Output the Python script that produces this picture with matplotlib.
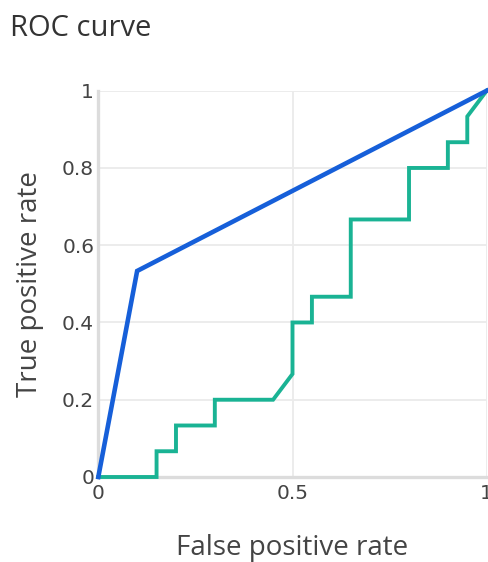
import numpy as np
import matplotlib
matplotlib.use("Agg")
import matplotlib.pyplot as plt

# ROC points for the two models
fpr_a = [0.0, 0.1, 1.0]
tpr_a = [0.0, 8 / 15, 1.0]

fpr_b = [0.0, 0.15, 0.15, 0.2, 0.2, 0.3, 0.3, 0.45, 0.5, 0.5, 0.55,
         0.55, 0.65, 0.65, 0.8, 0.8, 0.9, 0.9, 0.95, 0.95, 1.0]
tpr_b_counts = [0, 0, 1, 1, 2, 2, 3, 3, 4, 6, 6,
                7, 7, 10, 10, 12, 12, 13, 13, 14, 15]
tpr_b = [c / 15 for c in tpr_b_counts]

x_ticks = [0, 0.5, 1]
x_tick_labels = ["0", "0.5", "1"]
y_ticks = [0, 0.2, 0.4, 0.6, 0.8, 1]
y_tick_labels = ["0", "0.2", "0.4", "0.6", "0.8", "1"]

plt.rcParams["font.family"] = ["Open Sans", "DejaVu Sans"]

W, H = 488, 562
fig = plt.figure(figsize=(W / 100, H / 100), dpi=100)
ax = fig.add_axes([98.3 / W, 1 - 477 / H, 388.4 / W, 386.3 / H])

ax.plot(fpr_a, tpr_a, color="#165fd9", lw=3.3, clip_on=False, zorder=3,
        solid_joinstyle="miter")
ax.plot(fpr_b, tpr_b, color="#1ab394", lw=2.8, clip_on=False, zorder=2,
        solid_joinstyle="miter")

ax.set_xlim(0, 1)
ax.set_ylim(0, 1)
for s in ax.spines.values():
    s.set_visible(False)

ax.set_xticks(x_ticks)
ax.set_xticklabels(x_tick_labels, family="DejaVu Sans")
ax.set_yticks(y_ticks)
ax.set_yticklabels(y_tick_labels, family="DejaVu Sans")
ax.tick_params(length=0, labelsize=14.5, colors="#444444")
ax.tick_params(axis="x", pad=5)
ax.tick_params(axis="y", pad=3)
ax.grid(True, color="#ebebeb", lw=1.3)
ax.set_axisbelow(True)
# zero lines
ax.axhline(0, color="#dcdcdc", lw=2.4, zorder=1, clip_on=False)
ax.axvline(0, color="#dcdcdc", lw=2.4, zorder=1, clip_on=False)

ax.set_xlabel("False positive rate", fontsize=20, color="#444444")
ax.set_ylabel("True positive rate", fontsize=20, color="#444444")
ax.xaxis.label.set_va("center")
ax.yaxis.label.set_va("center")
ax.xaxis.set_label_coords(0.5, (477 - 548) / 386.3)
ax.yaxis.set_label_coords((30 - 98.3) / 388.4, 0.5)

fig.text(10 / W, 1 - 36 / H, "ROC curve", fontsize=21, color="#333333",
         ha="left", va="baseline")

fig.savefig("out.png", dpi=100)
